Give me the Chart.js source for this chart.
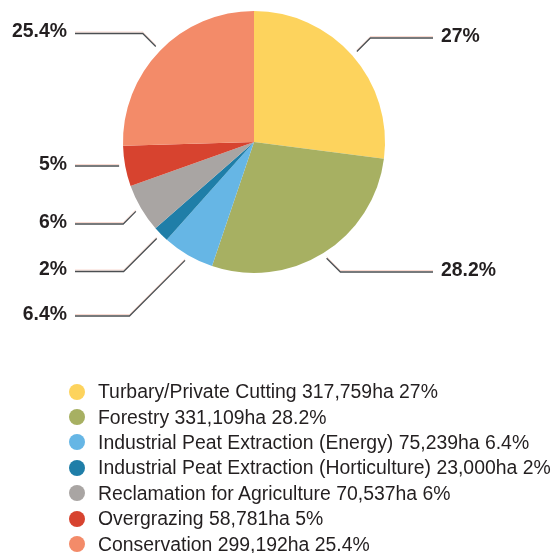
<!DOCTYPE html>
<html>
<head>
<meta charset="utf-8">
<script src="https://cdn.jsdelivr.net/npm/chart.js@4/dist/chart.umd.min.js"></script>
<style>
  html, body { margin: 0; padding: 0; background: #fff; }
  #wrap { position: relative; width: 555px; height: 553px; }
  #pie { position: absolute; left: 0; top: 0; }
  #legend {
    position: absolute; left: 69px; top: 379px;
    font-family: "Liberation Sans", Arial, sans-serif;
    font-size: 19.4px; color: #231f20;
  }
  .row { display: flex; align-items: center; height: 25.4px; white-space: nowrap; }
  .dot { width: 16px; height: 16px; border-radius: 50%; margin-right: 13px; flex: none; }
</style>
</head>
<body>
<div id="wrap">
  <canvas id="pie" width="555" height="553"></canvas>
  <div id="legend"></div>
</div>
<script>
const categories = [
  "Turbary/Private Cutting",
  "Forestry",
  "Industrial Peat Extraction (Energy)",
  "Industrial Peat Extraction (Horticulture)",
  "Reclamation for Agriculture",
  "Overgrazing",
  "Conservation"
];
const hectares = [317759, 331109, 75239, 23000, 70537, 58781, 299192];
const percentLabels = ["27%", "28.2%", "6.4%", "2%", "6%", "5%", "25.4%"];
const sliceColors = ["#fdd35d", "#a7b062", "#66b6e5", "#1f7ea8", "#a9a5a3", "#d7432f", "#f38b69"];

// where each callout's horizontal line sits (layout only)
const calloutY = [38, 272, 316, 271.5, 224, 166, 33.5];
const leftLineEnd = 75, rightLineEnd = 433;

// legend
const legendBox = document.getElementById("legend");
categories.forEach((name, i) => {
  const row = document.createElement("div");
  row.className = "row";
  row.innerHTML = `<span class="dot" style="background:${sliceColors[i]}"></span>` +
    `<span>${name} ${hectares[i].toLocaleString("en-US")}ha ${percentLabels[i]}</span>`;
  legendBox.appendChild(row);
});

// leader lines + percentage labels
const callouts = {
  id: "callouts",
  afterDatasetsDraw(chart) {
    const ctx = chart.ctx;
    const arcs = chart.getDatasetMeta(0).data;
    ctx.save();
    arcs.forEach((arc, i) => {
      const { x, y, startAngle, endAngle, outerRadius } =
        arc.getProps(["x", "y", "startAngle", "endAngle", "outerRadius"], true);
      const mid = (startAngle + endAngle) / 2;
      const r = outerRadius + 6;
      const right = Math.cos(mid) >= 0;
      const ly = calloutY[i];
      let ax = x + Math.cos(mid) * r;
      let ay = y + Math.sin(mid) * r;
      let dy = Math.abs(ly - ay);
      if (dy < 12) {
        // nearly level: run straight in from the rim at the label's height
        const w = Math.sqrt(r * r - (ly - y) * (ly - y));
        ax = right ? x + w : x - w;
        ay = ly;
        dy = 0;
      }
      const ex = right ? ax + dy : ax - dy;
      const endX = right ? rightLineEnd : leftLineEnd;

      // faint pink misregistration shadow
      ctx.strokeStyle = "rgba(240,170,150,0.45)";
      ctx.lineWidth = 1;
      ctx.beginPath();
      ctx.moveTo(ax, ay - 1.5);
      ctx.lineTo(ex, ly - 1.5);
      ctx.lineTo(endX, ly - 1.5);
      ctx.stroke();

      ctx.strokeStyle = "#4b4f52";
      ctx.lineWidth = 1.3;
      ctx.beginPath();
      ctx.moveTo(ax, ay);
      ctx.lineTo(ex, ly);
      ctx.lineTo(endX, ly);
      ctx.stroke();

      ctx.fillStyle = "#231f20";
      ctx.font = "bold 19.4px 'Liberation Sans', Arial, sans-serif";
      ctx.textBaseline = "middle";
      ctx.textAlign = right ? "left" : "right";
      ctx.fillText(percentLabels[i], right ? endX + 8 : endX - 8, ly - 1.5);
    });
    ctx.restore();
  }
};

new Chart(document.getElementById("pie"), {
  type: "pie",
  data: {
    labels: categories,
    datasets: [{
      data: hectares,
      backgroundColor: sliceColors,
      borderWidth: 0
    }]
  },
  options: {
    responsive: false,
    animation: false,
    layout: { padding: { left: 123, right: 170, top: 11, bottom: 280 } },
    plugins: {
      legend: { display: false },
      tooltip: { enabled: false }
    }
  },
  plugins: [callouts]
});
</script>
</body>
</html>
